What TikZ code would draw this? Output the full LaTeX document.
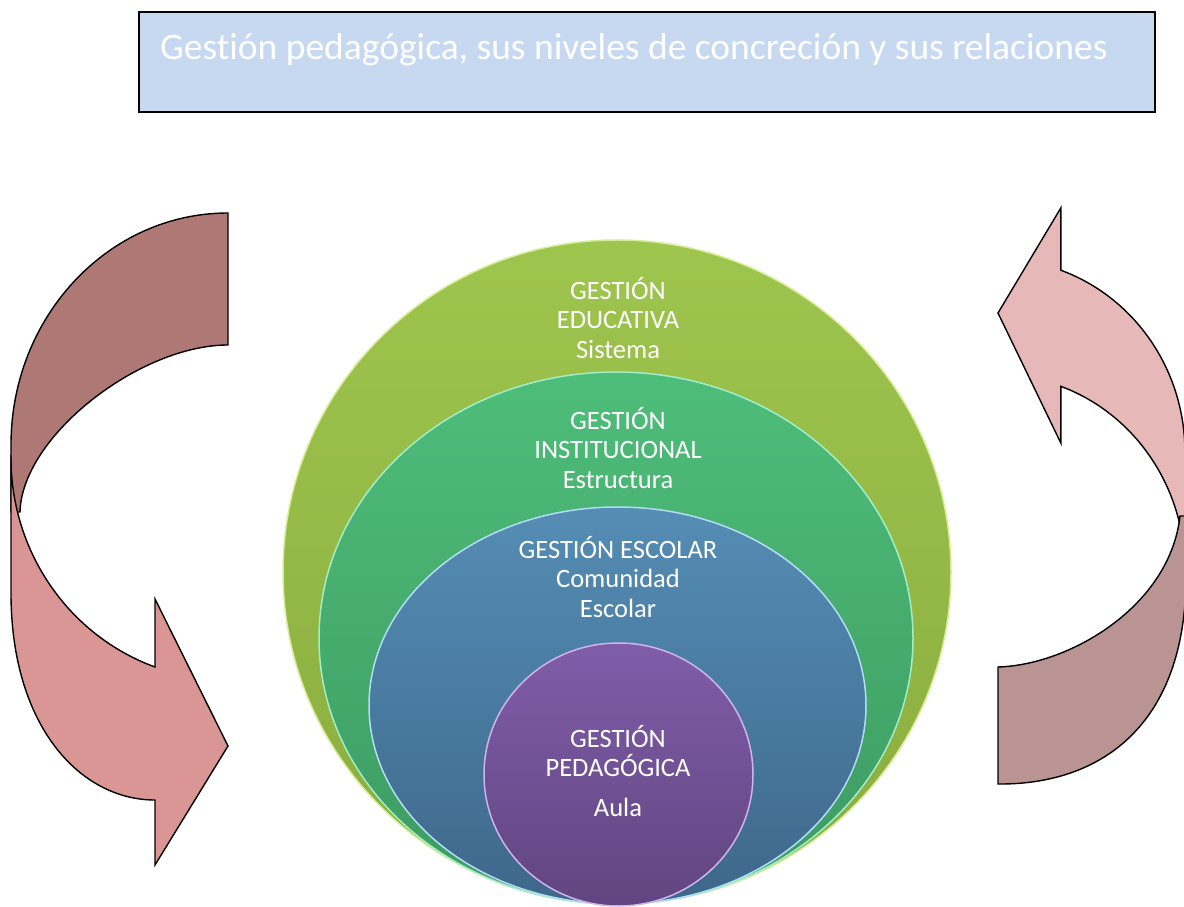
\documentclass[tikz,border=0pt]{standalone}
\usepackage{fontspec}
\setmainfont{Carlito}[Ligatures=NoCommon]
\usepackage{tikz}
\usetikzlibrary{shapes.geometric}

\definecolor{tituloazul}{RGB}{198,217,240}
\definecolor{eduA}{RGB}{158,197,78}
\definecolor{eduB}{RGB}{138,172,62}
\definecolor{eduBorde}{RGB}{214,236,150}
\definecolor{instA}{RGB}{78,189,122}
\definecolor{instB}{RGB}{61,154,97}
\definecolor{instBorde}{RGB}{160,238,200}
\definecolor{escA}{RGB}{85,141,180}
\definecolor{escB}{RGB}{62,103,138}
\definecolor{escBorde}{RGB}{178,220,245}
\definecolor{pedA}{RGB}{128,93,169}
\definecolor{pedB}{RGB}{97,69,128}
\definecolor{pedBorde}{RGB}{205,180,235}
\definecolor{flechaOscura}{RGB}{174,120,116}
\definecolor{flechaClara}{RGB}{217,150,148}
\definecolor{flechaRosa}{RGB}{230,184,183}
\definecolor{flechaGris}{RGB}{185,148,146}

\tikzset{
	nivel/.style={ellipse, inner sep=0pt, line width=1.5pt},
	rotulo/.style={text=white, align=center, font=\fontsize{26.5}{29.5}\selectfont},
	flecha/.style={draw=black, line width=1.4pt, line join=miter},
}

\begin{document}
\begin{tikzpicture}[x=1pt, y=1pt]
		\useasboundingbox (0,0) rectangle (1184,906);
		\clip (0,0) rectangle (1184,906);

		% titulo
		\node[draw=black, line width=1.5pt, fill=tituloazul, minimum width=1016pt, minimum height=100pt, inner sep=0pt] (titulo) at (647,844) {};
		\node[anchor=base west, inner sep=0pt, text=white, font=\fontsize{37.5}{44}\selectfont] (titulotexto) at (160,846) {Gestión pedagógica, sus niveles de concreción y sus relaciones};

		% flecha izquierda
		\draw[flecha, fill=flechaOscura] (228,693) arc[start angle=90, end angle=180, x radius=217, y radius=232]
		-- (11,394) -- (20,394) .. controls (22,470) and (140,561) .. (228,561) -- cycle;
		\draw[flecha, fill=flechaClara] (11,448) -- (11,313) .. controls (11,180) and (80,106) .. (155,106)
		-- (155,41) -- (228,160) -- (155,307) -- (155,239)
		arc[start angle=250.35, end angle=180, x radius=217, y radius=222] -- cycle;

		% flecha derecha
		\draw[flecha, fill=flechaRosa] (1060.8,635.8) arc[start angle=70.35, end angle=0, x radius=187, y radius=193]
		-- (1185,336) arc[start angle=0, end angle=70.35, x radius=187, y radius=195]
		-- (1060.8,463) -- (998,593) -- (1060.8,698) -- cycle;
		\draw[flecha, fill=flechaGris] (998,122) .. controls (1100,121) and (1186,180) .. (1186,330)
		-- (1186,390) -- (1180,390) .. controls (1170,300) and (1070,241) .. (998,239) -- cycle;

		% niveles
		\node[nivel, top color=eduA, bottom color=eduB, draw=eduBorde, minimum width=668pt, minimum height=664pt] (educativa) at (617,334) {};
		\node[nivel, top color=instA, bottom color=instB, draw=instBorde, minimum width=594pt, minimum height=532pt] (institucional) at (616,268) {};
		\node[nivel, top color=escA, bottom color=escB, draw=escBorde, minimum width=497pt, minimum height=397pt] (escolar) at (617.5,200.5) {};
		\node[nivel, top color=pedA, bottom color=pedB, draw=pedBorde, minimum width=269pt, minimum height=263pt] (pedagogica) at (618.5,131.5) {};

		\node[rotulo] (txteducativa) at (618,588) {GESTIÓN\\EDUCATIVA\\Sistema};
		\node[rotulo] (txtinstitucional) at (618,458) {GESTIÓN\\INSTITUCIONAL\\Estructura};
		\node[rotulo] (txtescolar) at (618,329) {GESTIÓN ESCOLAR\\Comunidad\\Escolar};
		\node[rotulo] (txtpedagogica) at (618,135) {GESTIÓN\\PEDAGÓGICA\\[10.5pt]Aula};
	\end{tikzpicture}
\end{document}
